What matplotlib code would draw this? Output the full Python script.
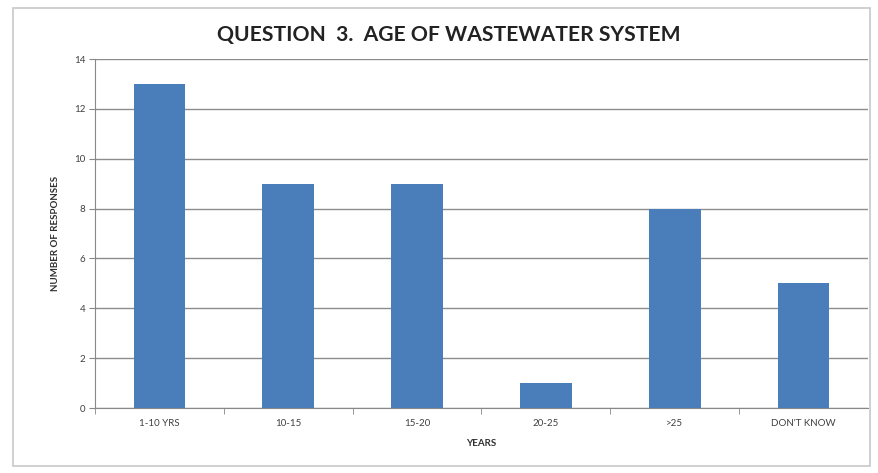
import matplotlib
matplotlib.use("Agg")
import matplotlib.pyplot as plt
from matplotlib.patches import Rectangle

categories = ["1-10 YRS", "10-15", "15-20", "20-25", ">25", "DON'T KNOW"]
values = [13, 9, 9, 1, 8, 5]
yticks = [0, 2, 4, 6, 8, 10, 12, 14]

plt.rcParams['font.family'] = ['Lato', 'DejaVu Sans']

fig = plt.figure(figsize=(8.79, 4.73), dpi=100)
fig.patches.append(Rectangle((13/879, 1-466/473), 857/879, 458/473, transform=fig.transFigure,
                             fill=False, edgecolor='#c8c8c8', linewidth=1.2))
ax = fig.add_axes([95/879, 1-408/473, 773/879, 349/473])
x = list(range(len(categories)))
ax.bar(x, values, width=0.4, color='#4a7ebb', zorder=3)
ax.set_xlim(-0.5, len(categories) - 0.5)
ax.set_ylim(0, 14)
ax.set_yticks(yticks)
ax.set_yticklabels([str(t) for t in yticks], fontsize=7, color='#404040')
ax.set_xticks(x)
ax.set_xticklabels(categories, fontsize=7, color='#404040')
ax.set_xticks([i + 0.5 for i in x[:-1]] + [-0.5], minor=True)
ax.tick_params(axis='x', which='major', length=0, pad=8)
ax.tick_params(axis='x', which='minor', length=4, color='#888888')
ax.tick_params(axis='y', length=4, color='#888888', pad=3)
ax.grid(axis='y', color='#8c8c8c', linewidth=1.0, zorder=0)
for s in ['top', 'right']:
    ax.spines[s].set_visible(False)
ax.spines['left'].set_color('#888888')
ax.spines['bottom'].set_color('#888888')
ax.set_xlabel("YEARS", fontsize=7, fontweight='bold', color='#303030', labelpad=8)
ax.set_ylabel("NUMBER OF RESPONSES", fontsize=7, fontweight='bold', color='#303030', labelpad=10)
fig.text(449/879, 1-35/473, "QUESTION  3.  AGE OF WASTEWATER SYSTEM", ha='center', va='center',
         fontsize=15.2, fontweight='bold', color='#222222')
fig.savefig("out.png", dpi=100)
